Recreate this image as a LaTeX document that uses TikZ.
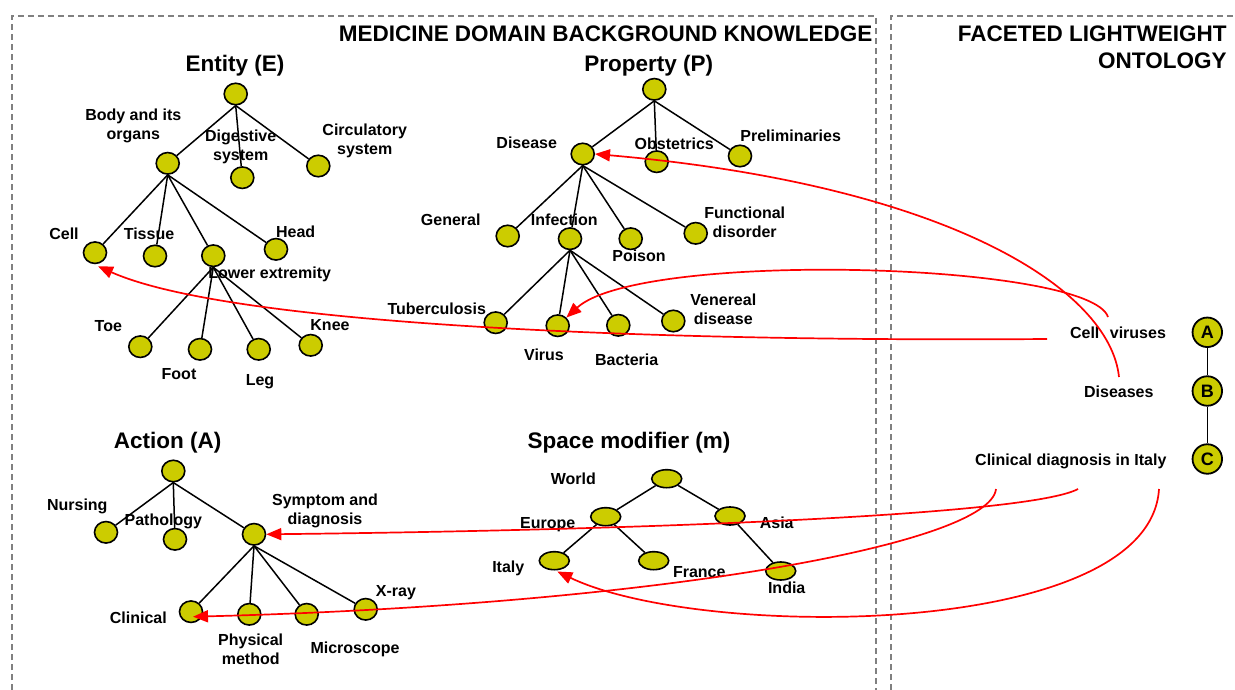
\documentclass[tikz,border=0pt]{standalone}
\usepackage{fontspec}
\setmainfont{Liberation Sans}
\usetikzlibrary{shapes.geometric,arrows.meta}
\definecolor{nodeyel}{RGB}{204,204,0}
\definecolor{framegray}{RGB}{128,128,128}
\begin{document}
\begin{tikzpicture}[x=1pt,y=-1pt,
  tn/.style={ellipse,draw=black,line width=1.6pt,fill=nodeyel,minimum width=23pt,minimum height=21.5pt,inner sep=0pt},
  sn/.style={tn,minimum width=30pt,minimum height=18pt},
  fn/.style={circle,draw=black,line width=1.8pt,fill=nodeyel,minimum size=29.5pt,inner sep=0pt,font=\fontsize{18}{18}\selectfont\bfseries},
  lbl/.style={font=\fontsize{16}{19}\selectfont\bfseries,inner sep=0pt,anchor=base},
  lbltwo/.style={font=\fontsize{16}{19}\selectfont\bfseries,inner sep=0pt,align=center,anchor=center},
  ttl/.style={font=\fontsize{22.5}{27}\selectfont\bfseries,inner sep=0pt,anchor=base},
  tedge/.style={draw=black,line width=1.5pt},
  rlink/.style={draw=red,line width=1.7pt,-{Triangle[length=15pt,width=12pt]}},
  frm/.style={draw=framegray,line width=1.4pt,dash pattern=on 6pt off 4pt}]
\useasboundingbox (0,0) rectangle (1235,690);
\fill[white] (0,0) rectangle (1235,690);

% frames
\draw[frm] (12,690) -- (12,16) -- (876,16) -- (876,690);
\draw[frm] (891,690) -- (891,16) -- (1235,16);

% titles
\node[ttl,anchor=base east] (tmed) at (872.7,41.7) {MEDICINE DOMAIN BACKGROUND KNOWLEDGE};
\node[font=\fontsize{22.5}{27}\selectfont\bfseries,inner sep=0pt,align=right,anchor=east] (tfac) at (1226.7,46.8) {FACETED LIGHTWEIGHT\\ONTOLOGY};
\node[ttl] (tent) at (235,71.2) {Entity (E)};
\node[ttl] (tprop) at (648.7,71.2) {Property (P)};
\node[ttl] (tact) at (167.7,448.6) {Action (A)};
\node[ttl] (tspace) at (629,448.6) {Space modifier (m)};

% Entity tree
\node[tn] (eR) at (235.7,94) {};
\node[tn] (eB) at (167.7,163.3) {};
\node[tn] (eD) at (242.3,177.7) {};
\node[tn] (eC) at (318.3,166) {};
\node[tn] (eCell) at (95,252.7) {};
\node[tn] (eT) at (155,256) {};
\node[tn] (eL) at (213.3,255.7) {};
\node[tn] (eH) at (276,249.3) {};
\node[tn] (eToe) at (140.3,346.7) {};
\node[tn] (eF) at (200,349.3) {};
\node[tn] (eLeg) at (258.7,349.3) {};
\node[tn] (eK) at (310.7,345.3) {};
\foreach \c in {eB,eD,eC} \draw[tedge] (eR.south) -- (\c);
\foreach \c in {eCell,eT,eL,eH} \draw[tedge] (eB.south) -- (\c);
\foreach \c in {eToe,eF,eLeg,eK} \draw[tedge] (eL.south) -- (\c);

\node[lbltwo] (lB) at (133.3,125.7) {Body and its\\organs};
\node[lbltwo] (lD) at (240.7,147.2) {Digestive\\system};
\node[lbltwo] (lC) at (364.7,141.3) {Circulatory\\system};
\node[lbl] (lCell) at (64,239) {Cell};
\node[lbl] (lT) at (149,240) {Tissue};
\node[lbl] (lH) at (295.7,237.4) {Head};
\node[lbl] (lL) at (269.7,278.4) {Lower extremity};
\node[lbl] (lToe) at (108.3,331.7) {Toe};
\node[lbl] (lF) at (179,379) {Foot};
\node[lbl] (lLeg) at (260,385.7) {Leg};
\node[lbl] (lK) at (330,330) {Knee};

% Property tree
\node[tn] (pR) at (654.3,89.3) {};
\node[tn] (pD) at (582.7,154) {};
\node[tn] (pO) at (656.7,161.7) {};
\node[tn] (pP) at (740,156) {};
\node[tn] (pG) at (507.7,236) {};
\node[tn] (pI) at (570,238.7) {};
\node[tn] (pPo) at (630.7,238.7) {};
\node[tn] (pF) at (695.7,233.3) {};
\node[tn] (pT) at (495.7,322.7) {};
\node[tn] (pV) at (557.7,325.7) {};
\node[tn] (pB) at (618.3,325.3) {};
\node[tn] (pVe) at (673.3,321) {};
\foreach \c in {pD,pO,pP} \draw[tedge] (pR.south) -- (\c);
\foreach \c in {pG,pI,pPo,pF} \draw[tedge] (pD.south) -- (\c);
\foreach \c in {pT,pV,pB,pVe} \draw[tedge] (pI.south) -- (\c);

\node[lbl] (lpD) at (526.7,149) {Disease};
\node[lbl] (lpO) at (674.3,150) {Obstetrics};
\node[lbl] (lpP) at (790.7,141.7) {Preliminaries};
\node[lbl] (lpG) at (450.7,225.7) {General};
\node[lbl] (lpI) at (564.3,225.7) {Infection};
\node[lbl] (lpPo) at (639,261.7) {Poison};
\node[lbltwo] (lpF) at (744.7,222.7) {Functional\\disorder};
\node[lbl] (lpT) at (436.7,314) {Tuberculosis};
\node[lbl] (lpV) at (544,360.7) {Virus};
\node[lbl] (lpB) at (626.7,365) {Bacteria};
\node[lbltwo] (lpVe) at (723.3,309.2) {Venereal\\disease};

% Action tree
\node[tn] (aR) at (173.3,471) {};
\node[tn] (aN) at (106,532.3) {};
\node[tn] (aP) at (175,539.3) {};
\node[tn] (aS) at (254,534.3) {};
\node[tn] (aC) at (191,611.7) {};
\node[tn] (aPh) at (249.3,614.3) {};
\node[tn] (aM) at (306.7,614.3) {};
\node[tn] (aX) at (365.7,609.3) {};
\foreach \c in {aN,aP,aS} \draw[tedge] (aR.south) -- (\c);
\foreach \c in {aC,aPh,aM,aX} \draw[tedge] (aS.south) -- (\c);

\node[lbl] (laN) at (77.3,510.7) {Nursing};
\node[lbl] (laP) at (163.3,525) {Pathology};
\node[lbltwo] (laS) at (325,510.5) {Symptom and\\diagnosis};
\node[lbl] (laC) at (138.3,623) {Clinical};
\node[lbltwo] (laPh) at (250.7,649.2) {Physical\\method};
\node[lbl] (laM) at (355,653) {Microscope};
\node[lbl] (laX) at (396,596.4) {X-ray};

% Space modifier tree
\node[sn] (sW) at (666.7,478.7) {};
\node[sn] (sE) at (605.7,516.7) {};
\node[sn] (sA) at (730,516) {};
\node[sn] (sI) at (554.3,560.7) {};
\node[sn] (sF) at (653.7,560.7) {};
\node[sn] (sIn) at (780.7,571) {};
\draw[tedge] (sW) -- (sE);
\draw[tedge] (sW) -- (sA);
\draw[tedge] (sE) -- (sI);
\draw[tedge] (sE) -- (sF);
\draw[tedge] (sA) -- (sIn);

\node[lbl] (lsW) at (573.3,484.4) {World};
\node[lbl] (lsE) at (547.7,528.4) {Europe};
\node[lbl] (lsA) at (776.7,528.4) {Asia};
\node[lbl] (lsI) at (508.3,572.4) {Italy};
\node[lbl] (lsF) at (699.3,577.4) {France};
\node[lbl] (lsIn) at (786.7,593.4) {India};

% Faceted lightweight ontology
\node[fn] (fA) at (1207.3,332.3) {A};
\node[fn] (fB) at (1207.3,391) {B};
\node[fn] (fC) at (1207.3,459) {C};
\draw[tedge] (fA) -- (fB);
\draw[tedge] (fB) -- (fC);
\node[lbl] (lfA) at (1118,338) {Cell\hspace{6pt} viruses};
\node[lbl] (lfB) at (1118.8,397.4) {Diseases};
\node[lbl] (lfC) at (1070.8,465.7) {Clinical diagnosis in Italy};

% red links
\coordinate (k1) at (1119,377);
\coordinate (k2) at (1108,317);
\coordinate (k3) at (1047,339);
\coordinate (k4) at (1078,489);
\coordinate (k5) at (996,489);
\coordinate (k6) at (1159,489);
\draw[rlink] (k1) .. controls (1110,290) and (950,185) .. (pD.east);
\draw[rlink] (k2) .. controls (1090,262) and (640,250) .. (pV.north east);
\draw[rlink] (k3) .. controls (650,342) and (230,325) .. ([shift={(3,2)}]eCell.south);
\draw[rlink] (k4) .. controls (1030,515) and (650,530) .. (aS.east);
\draw[rlink] (k5) .. controls (990,545) and (650,605) .. ([shift={(2,5)}]aC.center);
\draw[rlink] (k6) .. controls (1150,640) and (700,640) .. ([shift={(3,1)}]sI.south);
\end{tikzpicture}
\end{document}
